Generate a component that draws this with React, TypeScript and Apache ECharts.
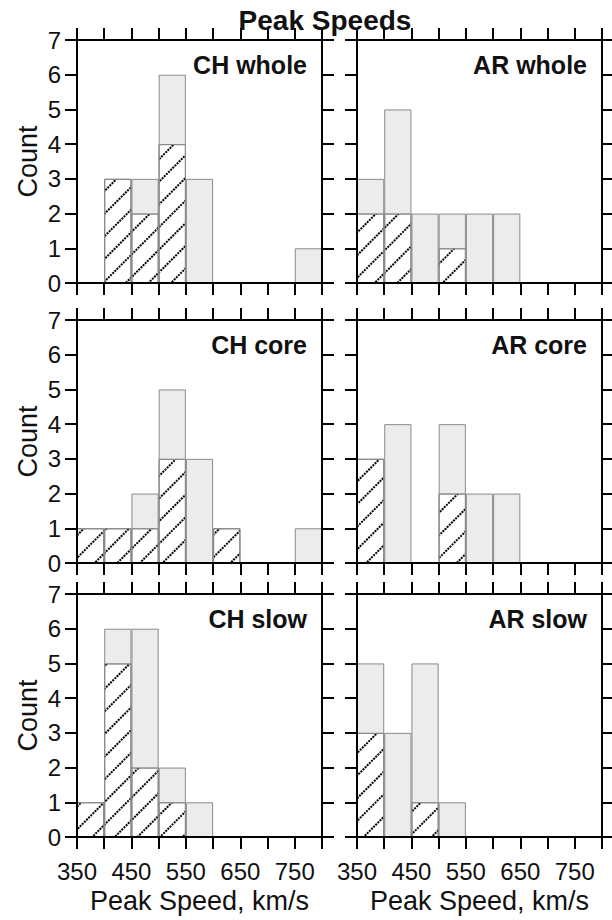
import React, { useEffect, useRef } from "react";
import * as echarts from "echarts";

// ---- data ----
const bins = ["350-400", "400-450", "450-500", "500-550", "550-600", "600-650", "650-700", "700-750", "750-800"];
const xTickLabels = [350, 450, 550, 650, 750];
const yTicks = [0, 1, 2, 3, 4, 5, 6, 7];

const chWholeTotal = [0, 3, 3, 6, 3, 0, 0, 0, 1];
const chWholeHatched = [0, 3, 2, 4, 0, 0, 0, 0, 0];
const arWholeTotal = [3, 5, 2, 2, 2, 2, 0, 0, 0];
const arWholeHatched = [2, 2, 0, 1, 0, 0, 0, 0, 0];
const chCoreTotal = [1, 1, 2, 5, 3, 1, 0, 0, 1];
const chCoreHatched = [1, 1, 1, 3, 0, 1, 0, 0, 0];
const arCoreTotal = [3, 4, 0, 4, 2, 2, 0, 0, 0];
const arCoreHatched = [3, 0, 0, 2, 0, 0, 0, 0, 0];
const chSlowTotal = [1, 6, 6, 2, 1, 0, 0, 0, 0];
const chSlowHatched = [1, 5, 2, 1, 0, 0, 0, 0, 0];
const arSlowTotal = [5, 3, 5, 1, 0, 0, 0, 0, 0];
const arSlowHatched = [3, 0, 1, 0, 0, 0, 0, 0, 0];

const panelNames = ["CH whole", "AR whole", "CH core", "AR core", "CH slow", "AR slow"];
const panelTotals = [chWholeTotal, arWholeTotal, chCoreTotal, arCoreTotal, chSlowTotal, arSlowTotal];
const panelHatched = [chWholeHatched, arWholeHatched, chCoreHatched, arCoreHatched, chSlowHatched, arSlowHatched];

const title = "Peak Speeds";
const xName = "Peak Speed, km/s";
const yName = "Count";

// ---- layout ----
const colLeft = [77, 357];
const colWidth = 245;
const rowTop = [40, 320, 594];
const rowHeight = 243;

const FONT = '"Liberation Sans", Arial, Helvetica, sans-serif';

export default function App() {
  const ref = useRef<HTMLDivElement>(null);
  useEffect(() => {
    if (!ref.current) return;
    const chart = echarts.init(ref.current, null, { renderer: "svg" });
    const grids: any[] = [];
    const xAxes: any[] = [];
    const yAxes: any[] = [];
    const series: any[] = [];
    const graphics: any[] = [];

    const axisLine = { show: true, lineStyle: { color: "#000", width: 2 } };
    const axisTick = { show: true, inside: false, length: 12, lineStyle: { color: "#000", width: 2 } };

    for (let i = 0; i < 6; i++) {
      const col = i % 2;
      const row = Math.floor(i / 2);
      const left = colLeft[col];
      const top = rowTop[row];
      grids.push({ left, top, width: colWidth, height: rowHeight, outerBoundsMode: "none", containLabel: false });

      // hidden category axis for bins
      xAxes.push({
        type: "category",
        gridIndex: i,
        data: bins,
        boundaryGap: true,
        show: false,
      });
      // bottom value axis
      xAxes.push({
        type: "value",
        gridIndex: i,
        position: "bottom",
        min: 350,
        max: 800,
        interval: 50,
        z: 10,
        axisLine,
        axisTick,
        splitLine: { show: false },
        axisLabel: {
          show: row === 2,
          margin: 22,
          fontSize: 24,
          fontFamily: FONT,
          color: "#111",
          showMinLabel: true,
          showMaxLabel: true,
          hideOverlap: false,
          formatter: (v: number) => (xTickLabels.includes(v) ? String(v) : ""),
        },
        name: row === 2 ? xName : "",
        nameLocation: "middle",
        nameGap: 50,
        nameTextStyle: { fontSize: 27, fontFamily: FONT, color: "#111" },
      });
      // top value axis
      xAxes.push({
        type: "value",
        gridIndex: i,
        position: "top",
        min: 350,
        max: 800,
        interval: 50,
        z: 10,
        axisLine,
        axisTick,
        splitLine: { show: false },
        axisLabel: { show: false },
      });
      // left y axis
      yAxes.push({
        type: "value",
        gridIndex: i,
        position: "left",
        min: 0,
        max: 7,
        interval: 1,
        z: 10,
        axisLine,
        axisTick,
        splitLine: { show: false },
        axisLabel: {
          show: col === 0,
          margin: 16,
          fontSize: 24,
          fontFamily: FONT,
          color: "#111",
          formatter: (v: number) => (yTicks.includes(v) ? String(v) : ""),
        },
        name: col === 0 ? yName : "",
        nameLocation: "middle",
        nameRotate: 90,
        nameGap: 36,
        nameTextStyle: { fontSize: 27, fontFamily: FONT, color: "#111" },
      });
      // right y axis
      yAxes.push({
        type: "value",
        gridIndex: i,
        position: "right",
        min: 0,
        max: 7,
        interval: 1,
        z: 10,
        axisLine,
        axisTick,
        splitLine: { show: false },
        axisLabel: { show: false },
      });

      series.push({
        type: "bar",
        name: panelNames[i] + " all",
        xAxisIndex: 3 * i,
        yAxisIndex: 2 * i,
        barCategoryGap: "0%",
        barGap: "-100%",
        data: panelTotals[i].map((v) => (v > 0 ? v : null)),
        itemStyle: { color: "#ececec", borderColor: "#8a8a8a", borderWidth: 1 },
        z: 2,
      });
      series.push({
        type: "bar",
        name: panelNames[i] + " subset",
        xAxisIndex: 3 * i,
        yAxisIndex: 2 * i,
        barCategoryGap: "0%",
        barGap: "-100%",
        data: panelHatched[i].map((v) => (v > 0 ? v : null)),
        itemStyle: {
          color: "#ffffff",
          borderColor: "#8a8a8a",
          borderWidth: 1,
          decal: {
            symbol: "rect",
            symbolSize: 1,
            color: "#000",
            backgroundColor: null,
            dashArrayX: [2, 1],
            dashArrayY: [2, 14],
            rotation: -Math.PI / 4,
          },
        },
        z: 3,
      });

      graphics.push({
        type: "text",
        x: left + colWidth - 15,
        y: top + 25,
        style: {
          text: panelNames[i],
          font: `bold 25px ${FONT}`,
          fill: "#111",
          textAlign: "right",
          textVerticalAlign: "middle",
          align: "right",
          verticalAlign: "middle",
        },
        z: 20,
      });
    }

    graphics.push({
      type: "text",
      x: 325,
      y: 20,
      style: {
        text: title,
        font: `bold 28px ${FONT}`,
        fill: "#111",
        textAlign: "center",
        textVerticalAlign: "middle",
        align: "center",
        verticalAlign: "middle",
      },
      z: 20,
    });

    chart.setOption({
      animation: false,
      backgroundColor: "#fff",
      grid: grids,
      xAxis: xAxes,
      yAxis: yAxes,
      series,
      graphic: graphics,
    });
    return () => chart.dispose();
  }, []);
  return (
    <div
      ref={ref}
      style={{ position: "absolute", left: 0, top: 0, width: 612, height: 920 }}
    />
  );
}
